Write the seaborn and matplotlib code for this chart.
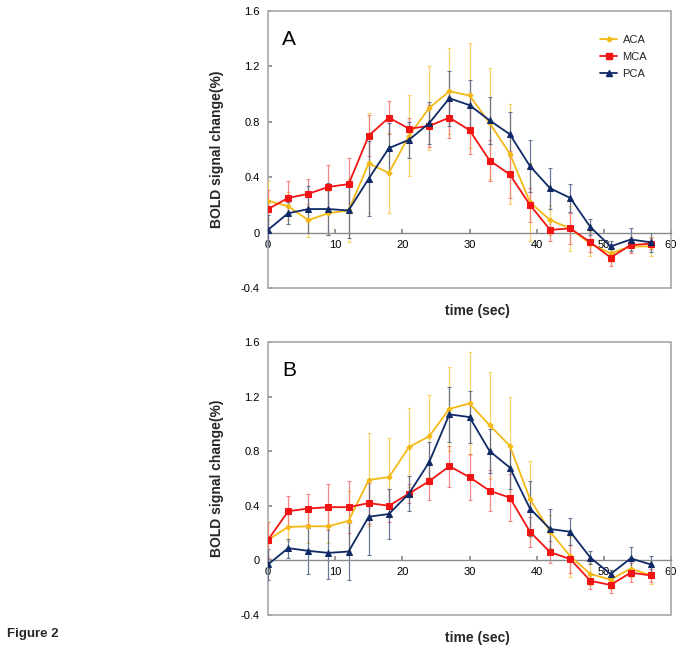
import numpy as np
import pandas as pd
import matplotlib
matplotlib.use("Agg")
import matplotlib.pyplot as plt
import seaborn as sns
from matplotlib.patches import Rectangle
from matplotlib.lines import Line2D

time = [0, 3, 6, 9, 12, 15, 18, 21, 24, 27, 30, 33, 36, 39, 42, 45, 48, 51, 54, 57]
series_names = ["ACA", "MCA", "PCA"]

# Panel A
A_ACA = [0.23, 0.19, 0.09, 0.14, 0.16, 0.50, 0.43, 0.70, 0.90, 1.02, 0.99, 0.79, 0.57, 0.22, 0.09, 0.03, -0.08, -0.15, -0.10, -0.10]
A_MCA = [0.17, 0.25, 0.28, 0.33, 0.35, 0.70, 0.83, 0.75, 0.77, 0.83, 0.74, 0.52, 0.42, 0.20, 0.02, 0.03, -0.07, -0.18, -0.09, -0.08]
A_PCA = [0.02, 0.14, 0.17, 0.17, 0.16, 0.39, 0.61, 0.67, 0.79, 0.97, 0.92, 0.81, 0.71, 0.48, 0.32, 0.25, 0.04, -0.10, -0.05, -0.07]
A_ACA_err = [0.14, 0.10, 0.12, 0.16, 0.23, 0.36, 0.29, 0.29, 0.30, 0.31, 0.38, 0.40, 0.36, 0.28, 0.11, 0.16, 0.09, 0.06, 0.05, 0.07]
A_MCA_err = [0.14, 0.12, 0.11, 0.16, 0.19, 0.15, 0.12, 0.08, 0.15, 0.15, 0.17, 0.15, 0.17, 0.12, 0.08, 0.11, 0.07, 0.06, 0.06, 0.04]
A_PCA_err = [0.11, 0.08, 0.17, 0.19, 0.20, 0.27, 0.18, 0.13, 0.15, 0.20, 0.18, 0.17, 0.16, 0.19, 0.15, 0.10, 0.06, 0.04, 0.08, 0.07]

# Panel B
B_ACA = [0.15, 0.245, 0.25, 0.25, 0.29, 0.59, 0.61, 0.83, 0.91, 1.11, 1.15, 0.99, 0.84, 0.45, 0.21, 0.03, -0.10, -0.14, -0.06, -0.11]
B_MCA = [0.15, 0.36, 0.38, 0.39, 0.39, 0.42, 0.40, 0.49, 0.58, 0.69, 0.61, 0.51, 0.46, 0.21, 0.06, 0.01, -0.15, -0.18, -0.09, -0.11]
B_PCA = [-0.03, 0.09, 0.07, 0.055, 0.065, 0.32, 0.34, 0.49, 0.72, 1.07, 1.05, 0.80, 0.68, 0.38, 0.23, 0.21, 0.02, -0.10, 0.015, -0.03]
B_ACA_err = [0.13, 0.10, 0.12, 0.12, 0.22, 0.34, 0.29, 0.29, 0.30, 0.31, 0.38, 0.39, 0.36, 0.28, 0.12, 0.15, 0.08, 0.07, 0.06, 0.06]
B_MCA_err = [0.13, 0.11, 0.11, 0.17, 0.19, 0.15, 0.12, 0.07, 0.14, 0.15, 0.17, 0.15, 0.17, 0.11, 0.08, 0.10, 0.06, 0.06, 0.07, 0.05]
B_PCA_err = [0.11, 0.07, 0.17, 0.19, 0.21, 0.28, 0.18, 0.13, 0.15, 0.20, 0.19, 0.16, 0.16, 0.20, 0.15, 0.10, 0.05, 0.03, 0.08, 0.06]

x_ticks = [0, 10, 20, 30, 40, 50, 60]
y_ticks = [-0.4, 0, 0.4, 0.8, 1.2, 1.6]
y_tick_labels = ["-0.4", "0", "0.4", "0.8", "1.2", "1.6"]

colors = {"ACA": "#F5B915", "MCA": "#F21414", "PCA": "#0F2A66"}
err_colors = {"ACA": "#F8CF5A", "MCA": "#F37A7A", "PCA": "#5A6A8E"}
markers = {"ACA": "D", "MCA": "s", "PCA": "^"}
msizes = {"ACA": 2.6, "MCA": 4.7, "PCA": 3.8}

sns.set_theme(style="white")
plt.rcParams["font.family"] = ["Liberation Sans", "DejaVu Sans"]

fig = plt.figure(figsize=(6.83, 6.53), dpi=100)
W, H = 683.0, 653.0

def make_df(vals, errs):
    rows = []
    for name, v, e in zip(series_names, vals, errs):
        for t, y, ee in zip(time, v, e):
            rows.append({"time": t, "value": y, "err": ee, "series": name})
    return pd.DataFrame(rows)

panels = [
    ("A", make_df([A_ACA, A_MCA, A_PCA], [A_ACA_err, A_MCA_err, A_PCA_err]), (268, 11, 671, 288), True),
    ("B", make_df([B_ACA, B_MCA, B_PCA], [B_ACA_err, B_MCA_err, B_PCA_err]), (268, 342, 671, 615), False),
]

for label, df, (l, t, r, b), show_legend in panels:
    ax = fig.add_axes([l / W, 1 - b / H, (r - l) / W, (b - t) / H])
    # error bars
    for name in series_names:
        d = df[df.series == name]
        ax.errorbar(d["time"], d["value"], yerr=d["err"], fmt="none",
                    ecolor=err_colors[name], elinewidth=0.9, capsize=1.6,
                    capthick=0.8, alpha=0.9, zorder=2)
    for name in series_names:
        d = df[df.series == name]
        sns.lineplot(data=d, x="time", y="value", ax=ax, color=colors[name],
                     marker=markers[name], markersize=msizes[name],
                     markeredgecolor=colors[name], linewidth=1.3, zorder=3,
                     legend=False, errorbar=None)
    ax.set_xlim(0, 60)
    ax.set_ylim(-0.4, 1.6)
    ax.set_xticks(x_ticks)
    ax.set_yticks(y_ticks)
    ax.set_yticklabels(y_tick_labels)
    for s in ["top", "right", "left"]:
        ax.spines[s].set_visible(False)
    ax.spines["bottom"].set_position(("data", 0))
    ax.spines["bottom"].set_color("#8a8a8a")
    ax.spines["bottom"].set_linewidth(1.0)
    ax.add_patch(Rectangle((0, 0), 1, 1, transform=ax.transAxes, fill=False,
                           edgecolor="#a8a8a8", linewidth=1.2, clip_on=False, zorder=1))
    ax.tick_params(axis="x", direction="in", length=3, color="#8a8a8a",
                   labelsize=8, pad=5, colors="#8a8a8a", labelcolor="black")
    ax.tick_params(axis="y", direction="in", length=3, color="#8a8a8a",
                   labelsize=8, pad=6, labelcolor="black", left=True)
    ax.xaxis.set_ticks_position("bottom")
    ax.yaxis.set_ticks_position("left")
    ax.set_xlabel("")
    ax.set_ylabel("BOLD signal change(%)", fontsize=10, fontweight="bold", labelpad=12)
    ax.grid(False)
    ax.text(0.035, 0.93, label, transform=ax.transAxes, fontsize=15,
            ha="left", va="top", color="black")
    # x axis title below the panel
    fig.text(477 / W, 1 - (b + 23) / H, "time (sec)", ha="center", va="center",
             fontsize=10, fontweight="bold")
    if show_legend:
        handles = [Line2D([0], [0], color=colors[n], marker=markers[n],
                          markersize=msizes[n], linewidth=1.3) for n in series_names]
        ax.legend(handles, series_names, loc="upper left",
                  bbox_to_anchor=(0.8, 0.95), frameon=False, fontsize=8,
                  handlelength=1.5, handletextpad=0.5, labelspacing=0.65)

fig.text(7 / W, 1 - 634 / H, "Figure 2", ha="left", va="center",
         fontsize=9.5, fontweight="bold")

fig.savefig("out.png", dpi=100)
